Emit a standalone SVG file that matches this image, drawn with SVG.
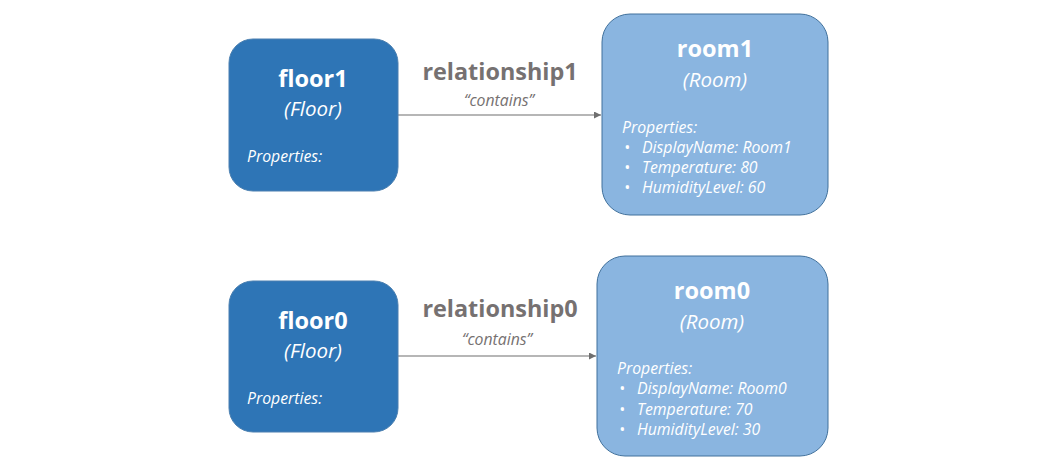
<svg xmlns="http://www.w3.org/2000/svg" width="1058" height="460" viewBox="0 0 1058 460">
<defs>
<marker id="ah" viewBox="0 0 10 10" refX="10" refY="5" markerWidth="7" markerHeight="7" markerUnits="userSpaceOnUse" orient="auto"><path d="M0,0 L10,5 L0,10 z" fill="#6f6f6f"/></marker>
<style>
.floor{fill:#2E75B6;stroke:#4a7fb0;stroke-width:1}
.room{fill:#8AB5E0;stroke:#41719C;stroke-width:1}
text{font-family:"Open Sans","Noto Sans","DejaVu Sans",sans-serif;fill:#fff}
.t{font-weight:bold;font-size:23.5px;text-anchor:middle}
.ty{font-style:italic;font-size:20.5px;text-anchor:middle}
.p{font-style:italic;font-size:15.8px}
.rel{font-weight:bold;font-size:23.4px;text-anchor:middle;fill:#767171}
.c{font-style:italic;font-size:15.8px;text-anchor:middle;fill:#767171}
.conn{stroke:#6f6f6f;stroke-width:1.2;fill:none}
</style>
</defs>
<rect width="1058" height="460" fill="#fff"/>
<g id="connectors">
<line class="conn" x1="398" y1="115" x2="601" y2="115" marker-end="url(#ah)"/>
<line class="conn" x1="398" y1="356" x2="596" y2="356" marker-end="url(#ah)"/>
<text class="rel" x="500" y="80">relationship1</text>
<text class="c" x="499" y="106">“contains”</text>
<text class="rel" x="500" y="317">relationship0</text>
<text class="c" x="497" y="345">“contains”</text>
</g>
<g id="floor1">
<rect class="floor" x="229" y="39" width="169" height="152" rx="24"/>
<text class="t" x="313" y="87">floor1</text>
<text class="ty" x="313" y="116">(Floor)</text>
<text class="p" x="247" y="162">Properties:</text>
</g>
<g id="room1">
<rect class="room" x="602" y="14" width="226" height="201" rx="28"/>
<text class="t" x="715" y="57">room1</text>
<text class="ty" x="715" y="87">(Room)</text>
<text class="p" x="622" y="133">Properties:</text>
<text class="p" x="624" y="153">•</text><text class="p" x="642" y="153">DisplayName: Room1</text>
<text class="p" x="624" y="173">•</text><text class="p" x="642" y="173">Temperature: 80</text>
<text class="p" x="624" y="193">•</text><text class="p" x="642" y="193">HumidityLevel: 60</text>
</g>
<g id="floor0">
<rect class="floor" x="229" y="281" width="169" height="151" rx="24"/>
<text class="t" x="313" y="329">floor0</text>
<text class="ty" x="313" y="358">(Floor)</text>
<text class="p" x="247" y="404">Properties:</text>
</g>
<g id="room0">
<rect class="room" x="597" y="256" width="231" height="200" rx="28"/>
<text class="t" x="712" y="299">room0</text>
<text class="ty" x="712" y="329">(Room)</text>
<text class="p" x="617" y="374">Properties:</text>
<text class="p" x="619" y="394">•</text><text class="p" x="637" y="394">DisplayName: Room0</text>
<text class="p" x="619" y="415">•</text><text class="p" x="637" y="415">Temperature: 70</text>
<text class="p" x="619" y="435">•</text><text class="p" x="637" y="435">HumidityLevel: 30</text>
</g>
</svg>
